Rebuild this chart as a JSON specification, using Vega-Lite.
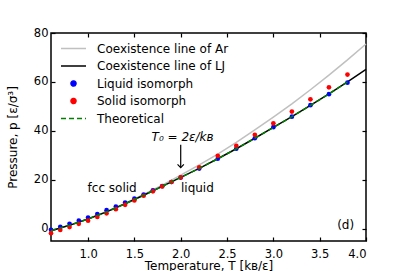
{
  "$schema": "https://vega.github.io/schema/vega-lite/v6.json",
  "autosize": "none",
  "width": 315,
  "height": 208,
  "padding": {"left": 51, "top": 33, "right": 41, "bottom": 30},
  "config": {
    "font": "DejaVu Sans",
    "view": {"stroke": "black", "strokeWidth": 1.5},
    "axis": {"domain": false, "grid": false, "tickColor": "black", "tickSize": -4, "tickWidth": 1.2, "labelColor": "black", "labelFontSize": 11.5, "titleFontSize": 12, "titleFontWeight": "normal", "titleColor": "black", "labelFont": "DejaVu Sans", "titleFont": "DejaVu Sans"}
  },
  "datasets": {
    "curves": [
      {"series": "Coexistence line of Ar", "T": 0.6, "p": -0.8},
      {"series": "Coexistence line of Ar", "T": 0.8, "p": 1.5},
      {"series": "Coexistence line of Ar", "T": 1.0, "p": 4.1},
      {"series": "Coexistence line of Ar", "T": 1.2, "p": 7.1},
      {"series": "Coexistence line of Ar", "T": 1.4, "p": 10.4},
      {"series": "Coexistence line of Ar", "T": 1.6, "p": 14.0},
      {"series": "Coexistence line of Ar", "T": 1.8, "p": 17.8},
      {"series": "Coexistence line of Ar", "T": 2.0, "p": 21.9},
      {"series": "Coexistence line of Ar", "T": 2.2, "p": 26.1},
      {"series": "Coexistence line of Ar", "T": 2.4, "p": 30.5},
      {"series": "Coexistence line of Ar", "T": 2.6, "p": 35.3},
      {"series": "Coexistence line of Ar", "T": 2.8, "p": 40.4},
      {"series": "Coexistence line of Ar", "T": 3.0, "p": 45.6},
      {"series": "Coexistence line of Ar", "T": 3.2, "p": 51.0},
      {"series": "Coexistence line of Ar", "T": 3.4, "p": 56.8},
      {"series": "Coexistence line of Ar", "T": 3.6, "p": 62.8},
      {"series": "Coexistence line of Ar", "T": 3.8, "p": 69.0},
      {"series": "Coexistence line of Ar", "T": 4.0, "p": 75.5},
      {"series": "Coexistence line of LJ", "T": 0.6, "p": -0.8},
      {"series": "Coexistence line of LJ", "T": 0.7, "p": 0.3},
      {"series": "Coexistence line of LJ", "T": 0.8, "p": 1.4},
      {"series": "Coexistence line of LJ", "T": 0.9, "p": 2.7},
      {"series": "Coexistence line of LJ", "T": 1.0, "p": 4.0},
      {"series": "Coexistence line of LJ", "T": 1.2, "p": 6.9},
      {"series": "Coexistence line of LJ", "T": 1.4, "p": 10.2},
      {"series": "Coexistence line of LJ", "T": 1.6, "p": 13.7},
      {"series": "Coexistence line of LJ", "T": 1.8, "p": 17.3},
      {"series": "Coexistence line of LJ", "T": 2.0, "p": 21.0},
      {"series": "Coexistence line of LJ", "T": 2.2, "p": 24.7},
      {"series": "Coexistence line of LJ", "T": 2.4, "p": 28.6},
      {"series": "Coexistence line of LJ", "T": 2.6, "p": 32.7},
      {"series": "Coexistence line of LJ", "T": 2.8, "p": 37.0},
      {"series": "Coexistence line of LJ", "T": 3.0, "p": 41.4},
      {"series": "Coexistence line of LJ", "T": 3.2, "p": 45.8},
      {"series": "Coexistence line of LJ", "T": 3.4, "p": 50.4},
      {"series": "Coexistence line of LJ", "T": 3.6, "p": 55.1},
      {"series": "Coexistence line of LJ", "T": 3.8, "p": 60.0},
      {"series": "Coexistence line of LJ", "T": 4.0, "p": 65.1},
      {"series": "Theoretical", "T": 0.6, "p": -0.8},
      {"series": "Theoretical", "T": 0.7, "p": 0.3},
      {"series": "Theoretical", "T": 0.8, "p": 1.4},
      {"series": "Theoretical", "T": 0.9, "p": 2.7},
      {"series": "Theoretical", "T": 1.0, "p": 4.0},
      {"series": "Theoretical", "T": 1.2, "p": 6.9},
      {"series": "Theoretical", "T": 1.4, "p": 10.2},
      {"series": "Theoretical", "T": 1.6, "p": 13.7},
      {"series": "Theoretical", "T": 1.8, "p": 17.3},
      {"series": "Theoretical", "T": 2.0, "p": 21.0},
      {"series": "Theoretical", "T": 2.2, "p": 24.7},
      {"series": "Theoretical", "T": 2.4, "p": 28.6},
      {"series": "Theoretical", "T": 2.6, "p": 32.7},
      {"series": "Theoretical", "T": 2.8, "p": 37.0},
      {"series": "Theoretical", "T": 3.0, "p": 41.4},
      {"series": "Theoretical", "T": 3.2, "p": 45.8},
      {"series": "Theoretical", "T": 3.4, "p": 50.4},
      {"series": "Theoretical", "T": 3.6, "p": 55.1},
      {"series": "Theoretical", "T": 3.8, "p": 60.0}
    ],
    "points": [
      {"series": "Liquid isomorph", "T": 0.6, "p": -0.4},
      {"series": "Liquid isomorph", "T": 0.7, "p": 0.8},
      {"series": "Liquid isomorph", "T": 0.8, "p": 2.0},
      {"series": "Liquid isomorph", "T": 0.9, "p": 3.3},
      {"series": "Liquid isomorph", "T": 1.0, "p": 4.6},
      {"series": "Liquid isomorph", "T": 1.1, "p": 6.0},
      {"series": "Liquid isomorph", "T": 1.2, "p": 7.6},
      {"series": "Liquid isomorph", "T": 1.3, "p": 9.1},
      {"series": "Liquid isomorph", "T": 1.4, "p": 10.7},
      {"series": "Liquid isomorph", "T": 1.5, "p": 12.3},
      {"series": "Liquid isomorph", "T": 1.6, "p": 14.0},
      {"series": "Liquid isomorph", "T": 1.7, "p": 15.7},
      {"series": "Liquid isomorph", "T": 1.8, "p": 17.4},
      {"series": "Liquid isomorph", "T": 1.9, "p": 19.1},
      {"series": "Liquid isomorph", "T": 2.0, "p": 20.9},
      {"series": "Liquid isomorph", "T": 2.2, "p": 24.6},
      {"series": "Liquid isomorph", "T": 2.4, "p": 28.6},
      {"series": "Liquid isomorph", "T": 2.6, "p": 32.7},
      {"series": "Liquid isomorph", "T": 2.8, "p": 37.0},
      {"series": "Liquid isomorph", "T": 3.0, "p": 41.5},
      {"series": "Liquid isomorph", "T": 3.2, "p": 45.8},
      {"series": "Liquid isomorph", "T": 3.4, "p": 50.5},
      {"series": "Liquid isomorph", "T": 3.6, "p": 55.0},
      {"series": "Liquid isomorph", "T": 3.8, "p": 59.7},
      {"series": "Solid isomorph", "T": 0.6, "p": -1.8},
      {"series": "Solid isomorph", "T": 0.7, "p": -0.5},
      {"series": "Solid isomorph", "T": 0.8, "p": 0.7},
      {"series": "Solid isomorph", "T": 0.9, "p": 2.0},
      {"series": "Solid isomorph", "T": 1.0, "p": 3.3},
      {"series": "Solid isomorph", "T": 1.1, "p": 4.8},
      {"series": "Solid isomorph", "T": 1.2, "p": 6.3},
      {"series": "Solid isomorph", "T": 1.3, "p": 8.0},
      {"series": "Solid isomorph", "T": 1.4, "p": 9.8},
      {"series": "Solid isomorph", "T": 1.5, "p": 11.6},
      {"series": "Solid isomorph", "T": 1.6, "p": 13.5},
      {"series": "Solid isomorph", "T": 1.7, "p": 15.3},
      {"series": "Solid isomorph", "T": 1.8, "p": 17.3},
      {"series": "Solid isomorph", "T": 1.9, "p": 19.1},
      {"series": "Solid isomorph", "T": 2.0, "p": 21.0},
      {"series": "Solid isomorph", "T": 2.2, "p": 25.1},
      {"series": "Solid isomorph", "T": 2.4, "p": 29.8},
      {"series": "Solid isomorph", "T": 2.6, "p": 33.9},
      {"series": "Solid isomorph", "T": 2.8, "p": 38.4},
      {"series": "Solid isomorph", "T": 3.0, "p": 43.1},
      {"series": "Solid isomorph", "T": 3.2, "p": 47.9},
      {"series": "Solid isomorph", "T": 3.4, "p": 52.9},
      {"series": "Solid isomorph", "T": 3.6, "p": 57.8},
      {"series": "Solid isomorph", "T": 3.8, "p": 63.0}
    ],
    "notes": [
      {"T": 1.26, "p": 16.7, "label": "fcc solid"},
      {"T": 2.18, "p": 16.7, "label": "liquid"},
      {"T": 3.78, "p": 1.6, "label": "(d)"}
    ],
    "formula": [
      {"T": 2.02, "p": 37.3, "label": "T₀ = 2ε/kʙ"}
    ],
    "arrow": [
      {"T": 2.0, "p": 34.3, "p2": 25.0}
    ]
  },
  "layer": [
    {
      "data": {"name": "curves"},
      "transform": [{"filter": "datum.series == 'Coexistence line of Ar'"}],
      "mark": {"type": "line", "strokeWidth": 1.5},
      "encoding": {
        "x": {"field": "T", "type": "quantitative", "scale": {"domain": [0.6, 4.0], "nice": false, "zero": false},
              "axis": {"orient": "bottom", "title": "Temperature, T [kʙ/ε]", "values": [1.0, 1.5, 2.0, 2.5, 3.0, 3.5, 4.0], "format": ".1f", "labelPadding": 11, "titlePadding": 1}},
        "y": {"field": "p", "type": "quantitative", "scale": {"domain": [-5, 80], "nice": false, "zero": false},
              "axis": {"orient": "left", "title": "Pressure, p [ε/σ³]", "values": [0, 20, 40, 60, 80], "labelPadding": 7, "titlePadding": 14}},
        "color": {"field": "series", "type": "nominal",
          "scale": {"domain": ["Coexistence line of Ar", "Coexistence line of LJ", "Liquid isomorph", "Solid isomorph", "Theoretical"],
                    "range": ["#c0c0c0", "black", "blue", "red", "green"]},
          "legend": {
            "title": null, "orient": "none", "legendX": 9, "legendY": 9,
            "symbolType": "stroke", "symbolSize": 625, "symbolStrokeWidth": 1.5,
            "clipHeight": 13,
            "labelFontSize": 12, "labelOffset": 10, "rowPadding": 4.5, "labelColor": "black", "labelLimit": 300,
            "encode": {"symbols": {"update": {
              "shape": {"signal": "datum.value == 'Liquid isomorph' || datum.value == 'Solid isomorph' ? 'circle' : 'stroke'"},
              "size": {"signal": "datum.value == 'Liquid isomorph' || datum.value == 'Solid isomorph' ? 25 : 625"},
              "fill": {"signal": "datum.value == 'Liquid isomorph' ? 'blue' : datum.value == 'Solid isomorph' ? 'red' : 'transparent'"},
              "stroke": {"signal": "datum.value == 'Coexistence line of Ar' ? '#c0c0c0' : datum.value == 'Coexistence line of LJ' ? 'black' : datum.value == 'Theoretical' ? 'green' : 'transparent'"},
              "strokeDash": {"signal": "datum.value == 'Theoretical' ? [5, 3] : [1, 0]"},
              "opacity": {"value": 1}
            }}}
          }}
      }
    },
    {
      "data": {"name": "curves"},
      "transform": [{"filter": "datum.series == 'Coexistence line of LJ'"}],
      "mark": {"type": "line", "strokeWidth": 1.5},
      "encoding": {
        "x": {"field": "T", "type": "quantitative", "axis": null},
        "y": {"field": "p", "type": "quantitative", "axis": null},
        "color": {"field": "series", "type": "nominal"}
      }
    },
    {
      "data": {"name": "points"},
      "mark": {"type": "circle", "size": 22, "opacity": 1},
      "encoding": {
        "x": {"field": "T", "type": "quantitative", "axis": null},
        "y": {"field": "p", "type": "quantitative", "axis": null},
        "color": {"field": "series", "type": "nominal"}
      }
    },
    {
      "data": {"name": "curves"},
      "transform": [{"filter": "datum.series == 'Theoretical'"}],
      "mark": {"type": "line", "strokeWidth": 1.5, "strokeDash": [5, 3]},
      "encoding": {
        "x": {"field": "T", "type": "quantitative", "axis": null},
        "y": {"field": "p", "type": "quantitative", "axis": null},
        "color": {"field": "series", "type": "nominal"}
      }
    },
    {
      "data": {"name": "notes"},
      "mark": {"type": "text", "fontSize": 12, "align": "center", "baseline": "middle", "color": "black"},
      "encoding": {
        "x": {"field": "T", "type": "quantitative", "axis": null},
        "y": {"field": "p", "type": "quantitative", "axis": null},
        "text": {"field": "label"}
      }
    },
    {
      "data": {"name": "formula"},
      "mark": {"type": "text", "fontSize": 12, "fontStyle": "italic", "align": "center", "baseline": "middle", "color": "black"},
      "encoding": {
        "x": {"field": "T", "type": "quantitative", "axis": null},
        "y": {"field": "p", "type": "quantitative", "axis": null},
        "text": {"field": "label"}
      }
    },
    {
      "data": {"name": "arrow"},
      "mark": {"type": "rule", "color": "black", "strokeWidth": 1.2},
      "encoding": {
        "x": {"field": "T", "type": "quantitative", "axis": null},
        "y": {"field": "p", "type": "quantitative", "axis": null},
        "y2": {"field": "p2"}
      }
    },
    {
      "data": {"name": "arrow"},
      "mark": {"type": "point", "shape": "M-1,-1L0,0L1,-1", "size": 40, "filled": false, "stroke": "black", "strokeWidth": 1.2, "opacity": 1},
      "encoding": {
        "x": {"field": "T", "type": "quantitative", "axis": null},
        "y": {"field": "p2", "type": "quantitative", "axis": null}
      }
    },
    {
      "data": {"name": "points"},
      "mark": {"type": "point", "opacity": 0},
      "encoding": {
        "x": {"field": "T", "type": "quantitative", "axis": {"orient": "top", "labels": false, "title": null, "values": [1.0, 1.5, 2.0, 2.5, 3.0, 3.5, 4.0]}},
        "y": {"field": "p", "type": "quantitative", "axis": {"orient": "right", "labels": false, "title": null, "values": [0, 20, 40, 60, 80]}}
      }
    }
  ],
  "resolve": {"axis": {"x": "independent", "y": "independent"}}
}
